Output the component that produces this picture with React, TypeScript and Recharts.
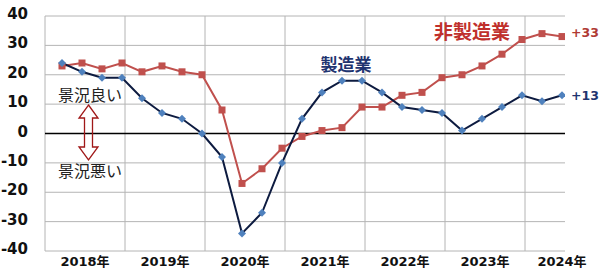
import { LineChart, Line, XAxis, YAxis, CartesianGrid, ReferenceLine } from "recharts";

const quarters = [
  "2018Q1", "2018Q2", "2018Q3", "2018Q4",
  "2019Q1", "2019Q2", "2019Q3", "2019Q4",
  "2020Q1", "2020Q2", "2020Q3", "2020Q4",
  "2021Q1", "2021Q2", "2021Q3", "2021Q4",
  "2022Q1", "2022Q2", "2022Q3", "2022Q4",
  "2023Q1", "2023Q2", "2023Q3", "2023Q4",
  "2024Q1", "2024Q2",
];
const manufacturing = [24, 21, 19, 19, 12, 7, 5, 0, -8, -34, -27, -10, 5, 14, 18, 18, 14, 9, 8, 7, 1, 5, 9, 13, 11, 13];
const nonManufacturing = [23, 24, 22, 24, 21, 23, 21, 20, 8, -17, -12, -5, -1, 1, 2, 9, 9, 13, 14, 19, 20, 23, 27, 32, 34, 33];
const yearLabels = ["2018年", "2019年", "2020年", "2021年", "2022年", "2023年", "2024年"];
const yTicks = [-40, -30, -20, -10, 0, 10, 20, 30, 40];

const FONT = "'DejaVu Sans', 'Noto Sans CJK JP', sans-serif";
const RED = "#c0504d";
const NAVY_LINE = "#0d1b40";
const BLUE_MARK = "#4f81bd";

// points sit ~0.85 of a quarter after each year boundary
const OFFSET = 0.85;
const lastIdx = quarters.length - 1;
const yearBounds = yearLabels.map((_, j) => j * 4 - OFFSET);
const yearCenters = yearLabels.map((_, j) => Math.min(j * 4 + 2 - OFFSET, lastIdx));

const rows = quarters.map((q, i) => ({
  i,
  q,
  mfg: manufacturing[i],
  non: nonManufacturing[i],
}));

const Square = (p: any) => {
  if (p.cx == null || p.cy == null) return null;
  return <rect key={p.key ?? p.index} x={p.cx - 3.5} y={p.cy - 3.5} width={7} height={7} fill={RED} />;
};

const Diamond = (p: any) => {
  if (p.cx == null || p.cy == null) return null;
  const s = 4;
  return (
    <path
      key={p.key ?? p.index}
      d={`M${p.cx},${p.cy - s} L${p.cx + s},${p.cy} L${p.cx},${p.cy + s} L${p.cx - s},${p.cy} Z`}
      fill={BLUE_MARK}
    />
  );
};

const XTick = (p: any) => {
  const idx = yearCenters.indexOf(p.payload.value);
  return (
    <text x={p.x} y={p.y + 15} textAnchor="middle" fontSize={13} fontWeight="bold" fill="#111" fontFamily={FONT}>
      {yearLabels[idx]}
    </text>
  );
};

const YTick = (p: any) => (
  <text x={p.x} y={p.y + 3} textAnchor="end" fontSize={15} fontWeight="bold" fill="#111" fontFamily={FONT}>
    {p.payload.value}
  </text>
);

export default function App() {
  return (
    <div style={{ position: "absolute", left: 0, top: 0, width: 600, height: 268, background: "#fff" }}>
      <LineChart
        width={600}
        height={268}
        data={rows}
        margin={{ top: 16, right: 35, bottom: 0, left: 10 }}
        style={{ fontFamily: FONT }}
      >
        <CartesianGrid vertical={false} stroke="#b4b4b4" strokeWidth={1} />
        {yearBounds.map((b) => (
          <ReferenceLine key={b} x={b} stroke="#b4b4b4" strokeWidth={1} />
        ))}
        <XAxis
          dataKey="i"
          type="number"
          domain={[-OFFSET, lastIdx + 1 - OFFSET]}
          ticks={yearCenters}
          tick={<XTick />}
          tickLine={false}
          axisLine={false}
          tickSize={0}
          tickMargin={0}
          height={17}
          interval={0}
          allowDataOverflow
        />
        <YAxis
          domain={[-40, 40]}
          ticks={yTicks}
          tick={<YTick />}
          tickLine={false}
          axisLine={false}
          tickSize={0}
          tickMargin={17}
          width={35}
          interval={0}
        />
        <ReferenceLine y={0} stroke="#000" strokeWidth={1.5} />
        <Line
          type="linear"
          dataKey="non"
          stroke={RED}
          strokeWidth={2}
          dot={Square}
          activeDot={false}
          isAnimationActive={false}
        />
        <Line
          type="linear"
          dataKey="mfg"
          stroke={NAVY_LINE}
          strokeWidth={2}
          dot={Diamond}
          activeDot={false}
          isAnimationActive={false}
        />
      </LineChart>
      <svg
        width={600}
        height={268}
        style={{ position: "absolute", left: 0, top: 0, pointerEvents: "none" }}
        fontFamily={FONT}
      >
        <text x={472} y={39} textAnchor="middle" fontSize={19} fontWeight="bold" fill="#c0302c">
          非製造業
        </text>
        <text x={346} y={71} textAnchor="middle" fontSize={17} fontWeight="bold" fill="#1f3470">
          製造業
        </text>
        <text x={571} y={37} fontSize={12.5} fontWeight="bold" fill="#b03a34">
          +33
        </text>
        <text x={571} y={100} fontSize={12.5} fontWeight="bold" fill="#1f3470">
          +13
        </text>
        <text x={90} y={101} textAnchor="middle" fontSize={16} fill="#222">
          景況良い
        </text>
        <text x={90} y={177} textAnchor="middle" fontSize={16} fill="#222">
          景況悪い
        </text>
        <path
          d="M88.5,105 L98,118 L92.5,118 L92.5,147 L98,147 L88.5,160 L79,147 L84.5,147 L84.5,118 L79,118 Z"
          fill="none"
          stroke="#a01818"
          strokeWidth={1.3}
        />
      </svg>
    </div>
  );
}
